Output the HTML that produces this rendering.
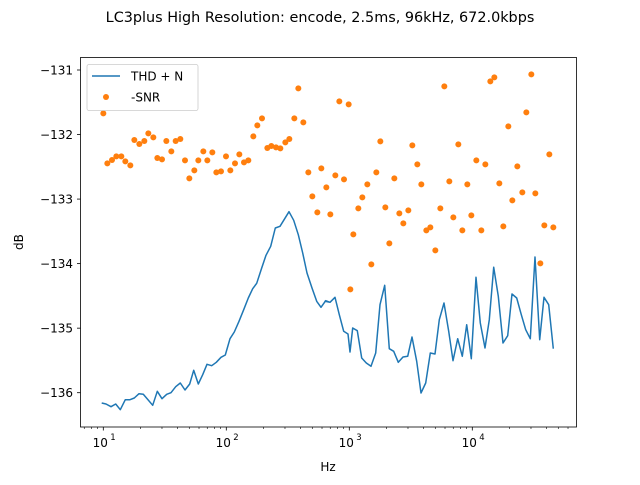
<!DOCTYPE html>
<html><head><meta charset="utf-8"><style>
body{margin:0;background:#fff}
svg text{font-family:"DejaVu Sans","Liberation Sans",sans-serif;fill:#000}
</style></head><body>
<svg id="s" width="640" height="480" xmlns="http://www.w3.org/2000/svg">
<rect width="640" height="480" fill="#fff"/>
<text x="320" y="22" font-size="14.4" text-anchor="middle">LC3plus High Resolution: encode, 2.5ms, 96kHz, 672.0kbps</text>
<g id="ax"></g>
<polyline id="ln" fill="none" stroke="#1f77b4" stroke-width="1.5" stroke-linejoin="round"/>
<g id="dots" fill="#ff7f0e"></g>
<rect x="80.5" y="57.5" width="496" height="369.5" fill="none" stroke="#000" stroke-width="0.8"/>
<g>
<rect x="87" y="64.5" width="111" height="46" rx="2" fill="#fff" fill-opacity="0.8" stroke="#ccc" stroke-width="0.8"/>
<line x1="92" y1="76" x2="120" y2="76" stroke="#1f77b4" stroke-width="1.5"/>
<text x="131" y="80.5" font-size="12">THD + N</text>
<circle cx="106" cy="97" r="3" fill="#ff7f0e"/>
<text x="131" y="101.5" font-size="12">-SNR</text>
</g>
<text x="328" y="471" font-size="12" text-anchor="middle">Hz</text>
<text x="23" y="242" font-size="12" text-anchor="middle" transform="rotate(-90 23 242)">dB</text>
</svg>
<script>
var ns="http://www.w3.org/2000/svg";
function el(t,a,p){var e=document.createElementNS(ns,t);for(var k in a)e.setAttribute(k,a[k]);p.appendChild(e);return e;}
var ax=document.getElementById('ax');
for(var i=0;i<6;i++){var v=-131-i,y=70+i*64.54;
el('line',{x1:77,x2:80.5,y1:y,y2:y,stroke:'#000','stroke-width':0.8},ax);
var t=el('text',{x:73,y:y+4.5,'font-size':12,'text-anchor':'end'},ax);t.textContent='\u2212'+(-v);}
var dec=123;
for(var d=0;d<4;d++){var x=103.3+d*dec;
el('line',{x1:x,x2:x,y1:427,y2:430.5,stroke:'#000','stroke-width':0.8},ax);
var t=el('text',{x:x-3,y:447,'font-size':12,'text-anchor':'middle'},ax);t.textContent='10';
var s=el('text',{x:x+7,y:440,'font-size':8.5},ax);s.textContent=String(d+1);}
for(var d=-1;d<4;d++)for(var m=2;m<10;m++){var x=103.3+(d+Math.log10(m))*dec;if(x<81||x>576)continue;
el('line',{x1:x,x2:x,y1:427,y2:429,stroke:'#000','stroke-width':0.6},ax);}
var L1=[[65,1035],[78,1038],[93,1046],[107,1038],[121,1055],[136,1025],[150,1025],[163,1020],[177,1007],[190,1009],[204,1025],[218,1042],[232,1000],[246,1022],[260,1009],[273,1004],[287,986],[301,975],[315,996],[329,978],[341,937],[355,978],[368,950],[381,919],[395,923],[409,913],[423,898],[436,891],[450,842],[463,822],[477,790],[491,755],[505,720],[518,692],[530,676],[545,630],[558,592],[572,565],[586,510],[600,505],[614,482],[627,461],[641,487],[655,530],[668,585],[681,645],[696,690],[710,730],[723,748],[737,728],[750,733]];
var L2=[[15,730],[30,733],[45,718],[58,770],[71,820],[84,828],[90,882],[98,810],[112,818],[125,900],[139,915],[153,925],[167,885],[180,740],[194,682],[208,872],[221,880],[235,913],[249,897],[263,895],[276,837],[290,910],[303,1005],[317,975],[331,885],[345,888],[358,785],[372,735],[386,820],[399,908],[413,842],[427,895],[440,800],[454,902],[468,658],[481,795],[495,870],[508,785],[521,628],[535,715],[549,855],[563,833],[576,708],[590,720],[604,770],[617,815],[631,842],[645,597],[659,845],[672,718],[686,740],[700,872]];
var pts=L1.map(function(p){return (80+p[0]/3).toFixed(1)+','+(58+p[1]/3).toFixed(1)}).concat(L2.map(function(p){return (320+p[0]/3).toFixed(1)+','+(58+p[1]/3).toFixed(1)}));
document.getElementById('ln').setAttribute('points',pts.join(' '));
var D1=[[70,166],[82,316],[96,306],[109,295],[124,295],[136,310],[151,322],[163,246],[178,258],[193,249],[205,226],[220,238],[232,300],[246,304],[259,249],[274,280],[287,249],[301,243],[315,307],[328,361],[343,337],[355,307],[370,280],[382,307],[397,283],[409,343],[423,340],[438,295],[451,337],[465,316],[478,289],[492,313],[505,307],[520,235],[532,202],[546,181],[562,270],[574,264],[588,268],[601,271],[616,253],[628,243],[643,181],[655,91],[670,193],[685,343],[697,415],[712,463],[724,331],[739,388]];
var D2=[[31,469],[46,352],[58,130],[72,364],[86,139],[91,694],[100,529],[115,451],[127,418],[142,379],[154,619],[169,343],[181,250],[196,448],[208,556],[223,361],[238,466],[250,496],[265,457],[277,262],[292,319],[304,379],[319,517],[331,508],[346,577],[361,451],[373,85],[388,370],[400,478],[415,259],[427,517],[442,379],[454,472],[469,307],[484,517],[496,319],[511,70],[523,58],[538,376],[550,505],[565,205],[577,427],[592,325],[607,403],[619,163],[634,49],[646,406],[661,616],[673,502],[688,289],[700,508]];
var g=document.getElementById('dots');
D1.forEach(function(p){el('circle',{cx:80+p[0]/3,cy:58+p[1]/3,r:3},g)});
D2.forEach(function(p){el('circle',{cx:320+p[0]/3,cy:58+p[1]/3,r:3},g)});
</script>
</body></html>
